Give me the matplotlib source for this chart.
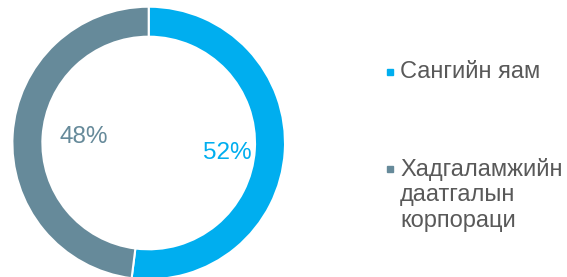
import matplotlib
matplotlib.use("Agg")
import matplotlib.pyplot as plt
from matplotlib.lines import Line2D

## Data
labels = ["Сангийн яам", "Хадгаламжийн\nдаатгалын\nкорпораци"]
shares = [52, 48]
colors = ["#00aeef", "#668a9a"]

plt.rcParams['font.family'] = ['Liberation Sans', 'DejaVu Sans']

W, H = 567, 277
fig = plt.figure(figsize=(W / 100, H / 100), dpi=100)
# square axes placed so the ring sits at the left, slightly cut at the bottom
ax = fig.add_axes([12.4 / W, -2.3 / H, 272.6 / W, 272.6 / H])

wedges, texts, pcts = ax.pie(shares, colors=colors, startangle=90, counterclock=False,
                             radius=1.0, autopct='%d%%', pctdistance=0.55,
                             wedgeprops=dict(width=0.22, edgecolor='white', linewidth=1.5),
                             textprops=dict(fontsize=17.5))
# nudge the labels to where they sit in the original
label_pos = [(0.575, -0.074), (-0.48, 0.044)]
for t, c, p in zip(pcts, colors, label_pos):
    t.set_color(c)
    t.set_position(p)
ax.set_xlim(-1, 1)
ax.set_ylim(-1, 1)

## legend drawn by hand: marker lines up with the first text line
legend_y = [72, 169]   # pixel rows of first lines, from top
for lab, c, y in zip(labels, colors, legend_y):
    fy = 1 - y / H
    fig.add_artist(Line2D([390 / W], [fy], marker='s', markersize=4.5, linestyle='none',
                          markerfacecolor=c, markeredgecolor=c, transform=fig.transFigure))
    fig.text(400 / W, fy + 11 / H, lab, fontsize=17, color='#595959', va='top', ha='left',
             linespacing=1.2)

fig.savefig("out.png", dpi=100)
